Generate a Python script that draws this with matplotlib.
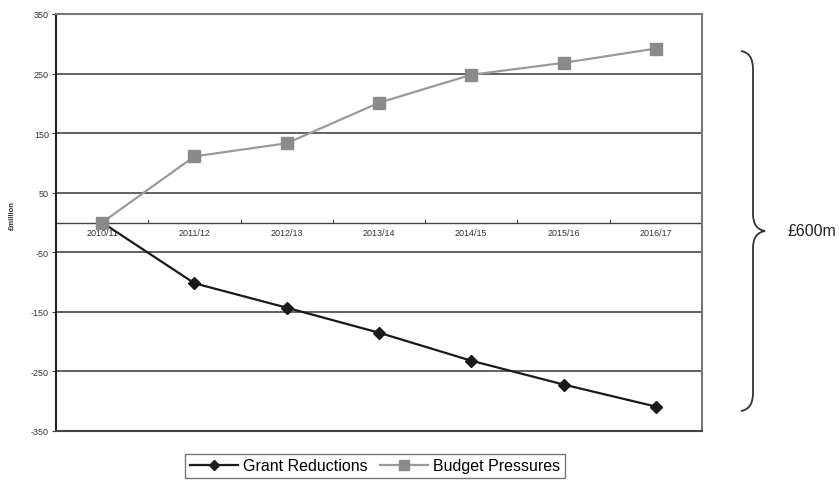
import matplotlib.pyplot as plt
import matplotlib.patches as mpatches
from matplotlib.path import Path
import numpy as np

plt.rcParams['font.family'] = ['Liberation Sans', 'DejaVu Sans']

# Datos de la gráfica (en millones de libras)
years = ['2010/11', '2011/12', '2012/13', '2013/14', '2014/15', '2015/16', '2016/17']
grant_reductions = [0, -102, -143, -185, -232, -272, -309]
budget_pressures = [0, 111, 133, 201, 248, 268, 292]
y_ticks = [350, 250, 150, 50, -50, -150, -250, -350]

fig = plt.figure(figsize=(8.39, 4.81), dpi=100)
ax = fig.add_axes([56 / 839, 1 - 432 / 481, 646 / 839, 417 / 481])

x = np.arange(len(years))

# Líneas de cuadrícula horizontales
for t in y_ticks[1:-1]:
    ax.axhline(t, color='#555555', linewidth=1.3, zorder=1)
ax.axhline(0, color='#444444', linewidth=1.0, zorder=1)

# Pequeñas marcas entre categorías sobre la línea de cero
for xm in x[1:] - 0.5:
    ax.plot([xm, xm], [0, 4], color='#444444', linewidth=0.8, zorder=1)

# Etiquetas de los años justo debajo de la línea de cero
for xi, lab in zip(x, years):
    ax.text(xi, -9, lab, ha='center', va='top', fontsize=6.5, color='#333333')

ax.plot(x, grant_reductions, color='#1a1a1a', linewidth=1.6, marker='D',
        markersize=6, markerfacecolor='#1a1a1a', label='Grant Reductions', zorder=3)
ax.plot(x, budget_pressures, color='#9a9a9a', linewidth=1.6, marker='s',
        markersize=8.5, markerfacecolor='#8a8a8a', markeredgecolor='#8a8a8a',
        label='Budget Pressures', zorder=3)

ax.set_xlim(-0.5, len(years) - 0.5)
ax.set_ylim(-350, 350)
ax.set_xticks([])
ax.set_yticks(y_ticks)
ax.set_yticklabels([str(t) for t in y_ticks], fontsize=6.5, color='#333333')
ax.tick_params(axis='y', length=3, width=0.8, color='#444444', pad=2)
for s in ax.spines.values():
    s.set_color('#777777')
    s.set_linewidth(1.5)
ax.spines['left'].set_color('#222222')
ax.spines['bottom'].set_color('#444444')

fig.text(12 / 839, 1 - 215 / 481, '£million', rotation=90, fontsize=5.5,
         fontweight='bold', ha='center', va='center', color='#333333')

# Leyenda abajo
fig.legend(loc='center', bbox_to_anchor=(375 / 839, 1 - 467 / 481), ncol=2,
           fontsize=11.5, frameon=True, fancybox=False, edgecolor='#555555',
           handlelength=3, columnspacing=0.8, handletextpad=0.3,
           borderpad=0.3, markerscale=0.9)

# Llave a la derecha con el total
over = fig.add_axes([0, 0, 1, 1], facecolor='none')
over.set_xlim(0, 839)
over.set_ylim(481, 0)
over.axis('off')
verts = [(741, 52), (753, 54), (753, 70),
         (753, 215),
         (753, 230), (765, 232),
         (753, 234), (753, 249),
         (753, 394),
         (753, 410), (741, 412)]
codes = [Path.MOVETO, Path.CURVE3, Path.CURVE3,
         Path.LINETO,
         Path.CURVE3, Path.CURVE3,
         Path.CURVE3, Path.CURVE3,
         Path.LINETO,
         Path.CURVE3, Path.CURVE3]
over.add_patch(mpatches.PathPatch(Path(verts, codes), facecolor='none',
                                  edgecolor='#333333', linewidth=1.3))
over.text(787, 232, '£600m', fontsize=11.5, ha='left', va='center', color='#222222')

fig.savefig('out.png', dpi=100)
